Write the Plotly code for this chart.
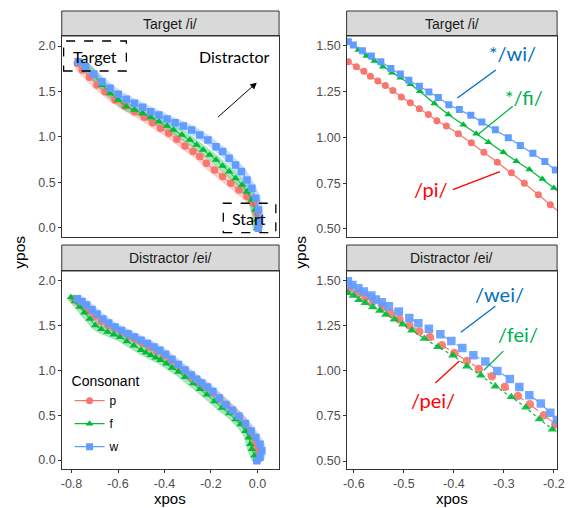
import plotly.graph_objects as go

# ---------------- data ----------------
consonants = ["p", "f", "w"]
series_colors = ["#F8766D", "#00BA38", "#619CFF"]
series_symbols = ["circle", "triangle-up", "square"]

# Top-left: Target /i/ full trajectories
tl_p_x = [-0.775, -0.754, -0.723, -0.691, -0.656, -0.613, -0.571, -0.529, -0.487, -0.452, -0.417, -0.382, -0.347,
          -0.312, -0.277, -0.248, -0.220, -0.185, -0.150, -0.115, -0.080, -0.045, -0.017, -0.003, 0.004, 0.002]
tl_p_y = [1.81, 1.736, 1.656, 1.571, 1.498, 1.407, 1.341, 1.278, 1.216, 1.157, 1.095, 1.04, 0.974,
          0.901, 0.839, 0.784, 0.711, 0.637, 0.564, 0.491, 0.418, 0.344, 0.271, 0.161, 0.051, 0.0]
tl_f_x = [-0.771, -0.740, -0.704, -0.669, -0.634, -0.599, -0.564, -0.529, -0.494, -0.459, -0.424, -0.389, -0.361,
          -0.325, -0.291, -0.262, -0.234, -0.206, -0.178, -0.150, -0.122, -0.094, -0.066, -0.045, -0.024, -0.010,
          -0.003, -0.003]
tl_f_y = [1.817, 1.773, 1.681, 1.571, 1.48, 1.407, 1.333, 1.297, 1.260, 1.216, 1.168, 1.121, 1.077,
          1.022, 0.967, 0.912, 0.857, 0.802, 0.747, 0.681, 0.619, 0.546, 0.473, 0.399, 0.308, 0.198,
          0.088, -0.004]
tl_w_x = [-0.771, -0.740, -0.704, -0.669, -0.634, -0.599, -0.564, -0.529, -0.494, -0.459, -0.424, -0.389, -0.354,
          -0.319, -0.283, -0.248, -0.213, -0.178, -0.150, -0.122, -0.094, -0.069, -0.045, -0.024, -0.007, 0.004,
          0.007, 0.004]
tl_w_y = [1.828, 1.773, 1.692, 1.608, 1.535, 1.469, 1.414, 1.370, 1.326, 1.278, 1.242, 1.198, 1.157,
          1.121, 1.077, 1.022, 0.967, 0.893, 0.839, 0.766, 0.692, 0.619, 0.527, 0.436, 0.326, 0.198,
          0.088, -0.004]

# Bottom-left: Distractor /ei/ full trajectories
bl_p_x = [-0.790, -0.770, -0.748, -0.725, -0.700, -0.672, -0.643, -0.613, -0.583, -0.553, -0.523, -0.493, -0.463,
          -0.433, -0.403, -0.373, -0.343, -0.313, -0.283, -0.253, -0.223, -0.193, -0.163, -0.133, -0.105, -0.078,
          -0.055, -0.035, -0.018, -0.005, 0.003, 0.005, 0.0]
bl_p_y = [1.80, 1.765, 1.72, 1.665, 1.605, 1.55, 1.505, 1.465, 1.425, 1.385, 1.345, 1.305, 1.262,
          1.215, 1.165, 1.110, 1.050, 0.990, 0.930, 0.872, 0.812, 0.750, 0.685, 0.618, 0.550, 0.480,
          0.405, 0.330, 0.255, 0.180, 0.110, 0.05, 0.005]
bl_f_x = [-0.803, -0.785, -0.765, -0.745, -0.722, -0.698, -0.672, -0.645, -0.618, -0.592, -0.562, -0.532, -0.501,
          -0.480, -0.459, -0.438, -0.417, -0.392, -0.368, -0.340, -0.312, -0.277, -0.248, -0.218, -0.185, -0.153,
          -0.122, -0.094, -0.073, -0.052, -0.038, -0.031, -0.024, -0.013, -0.005]
bl_f_y = [1.815, 1.77, 1.71, 1.645, 1.575, 1.503, 1.46, 1.43, 1.40, 1.373, 1.325, 1.277, 1.227,
          1.199, 1.171, 1.143, 1.116, 1.075, 1.03, 0.985, 0.925, 0.855, 0.792, 0.729, 0.655, 0.582,
          0.522, 0.453, 0.398, 0.324, 0.251, 0.177, 0.122, 0.048, 0.01]
bl_w_x = [-0.775, -0.755, -0.735, -0.712, -0.690, -0.665, -0.640, -0.613, -0.585, -0.557, -0.529, -0.501, -0.473,
          -0.445, -0.420, -0.395, -0.368, -0.340, -0.312, -0.285, -0.262, -0.240, -0.215, -0.192, -0.164, -0.136,
          -0.108, -0.080, -0.052, -0.027, -0.007, 0.011, 0.018, 0.011, -0.003]
bl_w_y = [1.80, 1.77, 1.73, 1.68, 1.63, 1.575, 1.53, 1.484, 1.447, 1.41, 1.373, 1.336, 1.30,
          1.263, 1.225, 1.18, 1.125, 1.065, 1.005, 0.95, 0.902, 0.86, 0.815, 0.766, 0.693, 0.619,
          0.556, 0.490, 0.409, 0.324, 0.251, 0.177, 0.103, 0.030, -0.008]

# Top-right: Target /i/ zoomed
tr_p_x = [-0.611, -0.595, -0.580, -0.567, -0.552, -0.537, -0.522, -0.505, -0.487, -0.469, -0.451, -0.434, -0.415,
          -0.391, -0.365, -0.340, -0.313, -0.285, -0.259, -0.231, -0.207, -0.183]
tr_p_y = [1.412, 1.385, 1.360, 1.334, 1.308, 1.283, 1.255, 1.220, 1.189, 1.156, 1.124, 1.091, 1.062,
          1.019, 0.970, 0.919, 0.864, 0.806, 0.749, 0.687, 0.632, 0.578]
tr_f_x = [-0.611, -0.591, -0.575, -0.559, -0.542, -0.524, -0.507, -0.487, -0.468, -0.439, -0.411, -0.381, -0.355,
          -0.331, -0.301, -0.275, -0.249, -0.223, -0.200, -0.177]
tr_f_y = [1.522, 1.476, 1.444, 1.416, 1.385, 1.352, 1.325, 1.290, 1.251, 1.185, 1.125, 1.069, 1.019,
          0.973, 0.919, 0.869, 0.824, 0.773, 0.723, 0.673]
tr_w_x = [-0.611, -0.601, -0.583, -0.565, -0.546, -0.526, -0.507, -0.490, -0.469, -0.450, -0.431, -0.410, -0.389,
          -0.366, -0.344, -0.317, -0.291, -0.267, -0.242, -0.218, -0.197, -0.175]
tr_w_y = [1.522, 1.504, 1.473, 1.444, 1.412, 1.376, 1.345, 1.312, 1.279, 1.248, 1.217, 1.178, 1.152,
          1.120, 1.083, 1.041, 0.998, 0.955, 0.913, 0.868, 0.822, 0.778]

# Bottom-right: Distractor /ei/ zoomed
br_p_x = [-0.609, -0.591, -0.577, -0.562, -0.542, -0.526, -0.509, -0.489, -0.469, -0.448, -0.424, -0.399, -0.374,
          -0.350, -0.324, -0.298, -0.272, -0.248, -0.220, -0.197, -0.175]
br_p_y = [1.454, 1.430, 1.408, 1.386, 1.353, 1.319, 1.285, 1.251, 1.218, 1.187, 1.141, 1.098, 1.054,
          1.010, 0.970, 0.911, 0.861, 0.815, 0.754, 0.703, 0.660]
br_f_x = [-0.612, -0.601, -0.590, -0.577, -0.562, -0.548, -0.536, -0.519, -0.502, -0.484, -0.459, -0.432, -0.402,
          -0.374, -0.346, -0.317, -0.285, -0.256, -0.229, -0.203, -0.178]
br_f_y = [1.432, 1.417, 1.393, 1.377, 1.353, 1.334, 1.312, 1.285, 1.257, 1.224, 1.178, 1.132, 1.086,
          1.025, 0.975, 0.914, 0.855, 0.797, 0.732, 0.675, 0.625]
br_w_x = [-0.612, -0.603, -0.591, -0.580, -0.565, -0.556, -0.544, -0.530, -0.510, -0.489, -0.471, -0.450, -0.427,
          -0.405, -0.383, -0.361, -0.337, -0.313, -0.288, -0.269, -0.249, -0.226, -0.207, -0.194]
br_w_y = [1.496, 1.476, 1.458, 1.439, 1.417, 1.395, 1.380, 1.358, 1.329, 1.292, 1.264, 1.233, 1.202,
          1.165, 1.126, 1.086, 1.052, 0.999, 0.955, 0.911, 0.865, 0.819, 0.767, 0.727]

left_xticks = [-0.8, -0.6, -0.4, -0.2, 0.0]
left_xticklabels = ["-0.8", "-0.6", "-0.4", "-0.2", "0.0"]
left_yticks = [0.0, 0.5, 1.0, 1.5, 2.0]
left_yticklabels = ["0.0", "0.5", "1.0", "1.5", "2.0"]
right_xticks = [-0.6, -0.5, -0.4, -0.3, -0.2]
right_xticklabels = ["-0.6", "-0.5", "-0.4", "-0.3", "-0.2"]
right_yticks = [0.50, 0.75, 1.00, 1.25, 1.50]
right_yticklabels = ["0.50", "0.75", "1.00", "1.25", "1.50"]

strip_titles = ["Target /i/", "Target /i/", "Distractor /ei/", "Distractor /ei/"]
tr_labels = ["*/wi/", "*/fi/", "/pi/"]
br_labels = ["/wei/", "/fei/", "/pei/"]
label_colors = ["#0070C0", "#00B050", "#FF0000"]

# ---------------- figure ----------------
W, H = 569, 508
def px(x):
    return x / W
def py(y):
    return 1 - y / H

fig = go.Figure()

LX = [px(59), px(281)]
RX = [px(350), px(565)]
TY = [py(237), py(36)]
BY = [py(469), py(271)]

axis_common = dict(showline=True, mirror=True, linecolor="#333333", linewidth=1,
                   showgrid=False, zeroline=False, ticks="outside", ticklen=2.5,
                   tickcolor="#333333", tickwidth=1, ticklabeloverflow="allow",
                   tickfont=dict(family="Liberation Sans, Arial", size=12.5, color="#4D4D4D"))
axis_noticks = {k: v for k, v in axis_common.items() if k != "ticks"}

LXR = [-0.842, 0.093]
LYR = [-0.1, 2.11]
RXR = [-0.6145, -0.1935]
RYR = [0.456, 1.553]

fig.update_layout(
    xaxis=dict(domain=LX, anchor="y", range=LXR, showticklabels=False, ticks="", **axis_noticks),
    yaxis=dict(domain=TY, anchor="x", range=LYR, tickvals=left_yticks, ticktext=left_yticklabels, **axis_common),
    xaxis2=dict(domain=RX, anchor="y2", range=RXR, showticklabels=False, ticks="", **axis_noticks),
    yaxis2=dict(domain=TY, anchor="x2", range=RYR, tickvals=right_yticks, ticktext=right_yticklabels, **axis_common),
    xaxis3=dict(domain=LX, anchor="y3", range=LXR, tickvals=left_xticks, ticktext=left_xticklabels, **axis_common),
    yaxis3=dict(domain=BY, anchor="x3", range=LYR, tickvals=left_yticks, ticktext=left_yticklabels, **axis_common),
    xaxis4=dict(domain=RX, anchor="y4", range=RXR, tickvals=right_xticks, ticktext=right_xticklabels, **axis_common),
    yaxis4=dict(domain=BY, anchor="x4", range=RYR, tickvals=right_yticks, ticktext=right_yticklabels, **axis_common),
)

def rgba(hexc, a):
    h = hexc.lstrip("#")
    r, g, b = int(h[0:2], 16), int(h[2:4], 16), int(h[4:6], 16)
    return f"rgba({r},{g},{b},{a})"

# left panels: pale band + markers
left_sets = [
    ("x", "y", [(tl_p_x, tl_p_y), (tl_f_x, tl_f_y), (tl_w_x, tl_w_y)]),
    ("x3", "y3", [(bl_p_x, bl_p_y), (bl_f_x, bl_f_y), (bl_w_x, bl_w_y)]),
]
for xa, ya, sets in left_sets:
    for i, (xs, ys) in enumerate(sets):
        fig.add_trace(go.Scatter(x=xs, y=ys, xaxis=xa, yaxis=ya, mode="lines",
                                 line=dict(color=rgba(series_colors[i], 0.35), width=9, shape="spline"),
                                 showlegend=False, hoverinfo="skip"))
    for i, (xs, ys) in enumerate(sets):
        fig.add_trace(go.Scatter(x=xs, y=ys, xaxis=xa, yaxis=ya, mode="lines+markers",
                                 line=dict(color=series_colors[i], width=1),
                                 marker=dict(symbol=series_symbols[i], size=7.5, color=series_colors[i]),
                                 showlegend=False))

# top-right: solid lines + markers (used for legend)
tr_sets = [(tr_p_x, tr_p_y), (tr_f_x, tr_f_y), (tr_w_x, tr_w_y)]
for i, (xs, ys) in enumerate(tr_sets):
    fig.add_trace(go.Scatter(x=xs, y=ys, xaxis="x2", yaxis="y2", mode="lines+markers",
                             name=consonants[i], legendgroup=consonants[i],
                             line=dict(color=series_colors[i], width=1.2),
                             marker=dict(symbol=series_symbols[i], size=7, color=series_colors[i]),
                             showlegend=True))

# bottom-right: dashed/dotted lines + larger markers
br_sets = [(br_p_x, br_p_y), (br_f_x, br_f_y), (br_w_x, br_w_y)]
br_dash = ["dash", "dot", "dash"]
for i, (xs, ys) in enumerate(br_sets):
    fig.add_trace(go.Scatter(x=xs, y=ys, xaxis="x4", yaxis="y4", mode="lines+markers",
                             line=dict(color=series_colors[i], width=1.2, dash=br_dash[i]),
                             marker=dict(symbol=series_symbols[i], size=8.5, color=series_colors[i], opacity=0.9),
                             showlegend=False))

shapes = []
annotations = []

# strips
strip_boxes = [(LX, 11, 36), (RX, 11, 36), (LX, 245, 271), (RX, 245, 271)]
for (dx, ytop, ybot), title in zip(strip_boxes, strip_titles):
    shapes.append(dict(type="rect", xref="paper", yref="paper", x0=dx[0], x1=dx[1], y0=py(ybot), y1=py(ytop),
                       fillcolor="#D9D9D9", line=dict(color="#333333", width=1), layer="below"))
    annotations.append(dict(xref="paper", yref="paper", x=(dx[0] + dx[1]) / 2, y=py((ytop + ybot) / 2),
                            text=title, showarrow=False, xanchor="center", yanchor="middle",
                            font=dict(family="Liberation Sans, Arial", size=14, color="#1A1A1A")))

# axis titles
title_font = dict(family="Liberation Sans, Arial", size=15, color="#000000")
annotations.append(dict(xref="paper", yref="paper", x=px(170), y=0, yshift=0, text="xpos", showarrow=False,
                        xanchor="center", yanchor="bottom", borderpad=0, font=title_font))
annotations.append(dict(xref="paper", yref="paper", x=px(457.5), y=0, yshift=0, text="xpos", showarrow=False,
                        xanchor="center", yanchor="bottom", borderpad=0, font=title_font))
annotations.append(dict(xref="paper", yref="paper", x=px(15), y=py(252), text="ypos", showarrow=False,
                        textangle=-90, xanchor="center", yanchor="middle", font=dict(title_font, size=15.5)))
annotations.append(dict(xref="paper", yref="paper", x=px(302), y=py(252), text="ypos", showarrow=False,
                        textangle=-90, xanchor="center", yanchor="middle", font=dict(title_font, size=15.5)))

# top-left annotations
note_font = dict(family="Lato, Open Sans", size=16, color="#000000")
shapes.append(dict(type="rect", xref="x", yref="y", x0=-0.834, x1=-0.564, y0=1.725, y1=2.055,
                   line=dict(color="#000000", width=1.3, dash="dash")))
shapes.append(dict(type="rect", xref="x", yref="y", x0=-0.147, x1=0.079, y0=-0.052, y1=0.271,
                   line=dict(color="#000000", width=1.3, dash="dash")))
annotations.append(dict(xref="x", yref="y", x=-0.70, y=1.885, text="Target", showarrow=False, font=note_font))
annotations.append(dict(xref="x", yref="y", x=-0.035, y=0.105, text="Start", showarrow=False, font=note_font))
annotations.append(dict(xref="x", yref="y", x=-0.10, y=1.885, text="Distractor", showarrow=False, font=note_font))
annotations.append(dict(xref="x", yref="y", x=-0.003, y=1.597, ax=-0.176, ay=1.205, axref="x", ayref="y",
                        text="", showarrow=True, arrowhead=2, arrowsize=1.3, arrowwidth=1, arrowcolor="#000000"))

# top-right labels
lab_font_size = 20
tr_label_pos = [(-0.282, 1.46), (-0.259, 1.22), (-0.445, 0.718)]
tr_label_lines = [((-0.393, 1.215), (-0.316, 1.367)), ((-0.350, 1.02), (-0.282, 1.17)),
                  ((-0.402, 0.714), (-0.308, 0.813))]
for txt, col, (lx, ly), ((x0, y0), (x1, y1)) in zip(tr_labels, label_colors, tr_label_pos, tr_label_lines):
    annotations.append(dict(xref="x2", yref="y2", x=lx, y=ly, text=txt, showarrow=False,
                            font=dict(family="Lato, Open Sans", size=lab_font_size, color=col)))
    shapes.append(dict(type="line", xref="x2", yref="y2", x0=x0, y0=y0, x1=x1, y1=y1,
                       line=dict(color=col, width=1.3)))

br_label_pos = [(-0.308, 1.426), (-0.272, 1.205), (-0.441, 0.837)]
br_label_lines = [((-0.386, 1.214), (-0.317, 1.358)), ((-0.340, 1.003), (-0.301, 1.109)),
                  ((-0.437, 0.933), (-0.389, 1.054))]
for txt, col, (lx, ly), ((x0, y0), (x1, y1)) in zip(br_labels, label_colors, br_label_pos, br_label_lines):
    annotations.append(dict(xref="x4", yref="y4", x=lx, y=ly, text=txt, showarrow=False,
                            font=dict(family="Lato, Open Sans", size=lab_font_size, color=col)))
    shapes.append(dict(type="line", xref="x4", yref="y4", x0=x0, y0=y0, x1=x1, y1=y1,
                       line=dict(color=col, width=1.3)))

fig.update_layout(
    width=W, height=H,
    margin=dict(l=0, r=0, t=0, b=0),
    paper_bgcolor="white", plot_bgcolor="white",
    shapes=shapes, annotations=annotations,
    legend=dict(x=px(67), y=py(368), xanchor="left", yanchor="top",
                bgcolor="rgba(0,0,0,0)",
                title=dict(text="Consonant", font=dict(family="Liberation Sans, Arial", size=14, color="#000000")),
                font=dict(family="Liberation Sans, Arial", size=12, color="#000000"),
                tracegroupgap=4),
    showlegend=True,
)

fig.write_html("out.html", config={"displayModeBar": False},
               post_script="document.body.style.margin='0';document.body.style.padding='0';document.body.style.overflow='hidden';")
